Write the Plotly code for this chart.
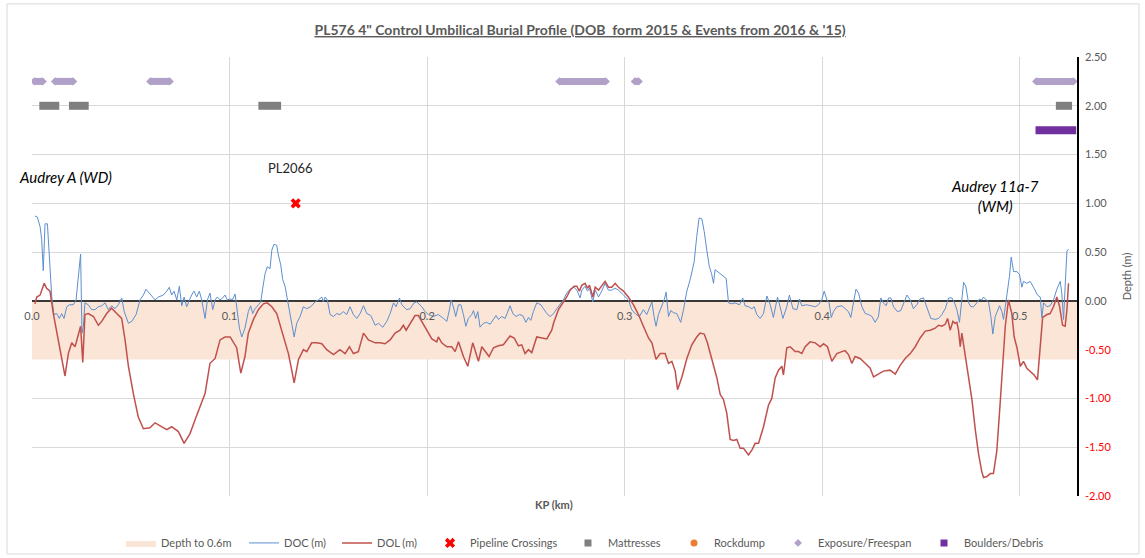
import plotly.graph_objects as go

# ---------------- data ----------------
kp_dol = [0.0015,0.0024,0.0041,0.0062,0.0074,0.0091,0.0108,0.0133,0.0150,0.0167,0.0184,0.0201,0.0218,0.0235,0.0246,0.0257,0.0268,0.0285,0.0311,0.0336,0.0353,0.0378,0.0403,0.0429,0.0454,0.0471,0.0488,0.0513,0.0538,0.0564,0.0597,0.0623,0.0657,0.0682,0.0707,0.0741,0.0770,0.0783,0.0800,0.0825,0.0851,0.0876,0.0901,0.0927,0.0952,0.0977,0.1003,0.1019,0.1036,0.1057,0.1078,0.1095,0.1121,0.1146,0.1171,0.1191,0.1214,0.1239,0.1273,0.1298,0.1310,0.1327,0.1349,0.1374,0.1391,0.1416,0.1441,0.1467,0.1492,0.1526,0.1559,0.1585,0.1607,0.1627,0.1652,0.1678,0.1703,0.1737,0.1762,0.1787,0.1813,0.1838,0.1863,0.1880,0.1894,0.1914,0.1939,0.1956,0.1973,0.1998,0.2024,0.2049,0.2057,0.2074,0.2100,0.2125,0.2142,0.2159,0.2184,0.2206,0.2218,0.2231,0.2248,0.2260,0.2277,0.2294,0.2314,0.2336,0.2361,0.2386,0.2420,0.2441,0.2462,0.2479,0.2496,0.2513,0.2530,0.2555,0.2581,0.2606,0.2631,0.2640,0.2665,0.2690,0.2707,0.2724,0.2744,0.2758,0.2771,0.2783,0.2800,0.2812,0.2822,0.2839,0.2851,0.2868,0.2884,0.2901,0.2918,0.2935,0.2952,0.2969,0.2994,0.3019,0.3045,0.3070,0.3095,0.3121,0.3138,0.3159,0.3180,0.3205,0.3222,0.3239,0.3256,0.3268,0.3290,0.3315,0.3340,0.3365,0.3382,0.3403,0.3419,0.3441,0.3467,0.3484,0.3500,0.3517,0.3534,0.3551,0.3568,0.3585,0.3602,0.3627,0.3644,0.3661,0.3678,0.3703,0.3728,0.3745,0.3762,0.3779,0.3796,0.3804,0.3821,0.3838,0.3863,0.3880,0.3897,0.3914,0.3939,0.3965,0.3990,0.4007,0.4027,0.4049,0.4074,0.4100,0.4116,0.4133,0.4150,0.4167,0.4192,0.4218,0.4243,0.4260,0.4285,0.4310,0.4344,0.4370,0.4395,0.4420,0.4446,0.4471,0.4496,0.4522,0.4547,0.4572,0.4589,0.4606,0.4623,0.4635,0.4648,0.4662,0.4673,0.4682,0.4690,0.4699,0.4707,0.4724,0.4741,0.4758,0.4775,0.4791,0.4808,0.4817,0.4834,0.4851,0.4867,0.4884,0.4901,0.4915,0.4927,0.4943,0.4960,0.4972,0.4986,0.5003,0.5019,0.5036,0.5053,0.5073,0.5090,0.5104,0.5116,0.5138,0.5154,0.5171,0.5188,0.5202,0.5217,0.5230,0.5239,0.5247]
dol = [-0.03,0.04,0.06,0.18,0.13,0.10,-0.13,-0.40,-0.60,-0.77,-0.54,-0.43,-0.47,-0.33,-0.26,-0.63,-0.14,-0.13,-0.16,-0.25,-0.21,-0.13,-0.075,-0.13,-0.18,-0.40,-0.67,-0.95,-1.19,-1.31,-1.30,-1.25,-1.29,-1.32,-1.29,-1.34,-1.46,-1.42,-1.36,-1.22,-1.08,-0.95,-0.64,-0.59,-0.40,-0.37,-0.37,-0.43,-0.48,-0.74,-0.57,-0.33,-0.19,-0.09,-0.03,-0.02,-0.06,-0.13,-0.37,-0.54,-0.66,-0.84,-0.60,-0.50,-0.52,-0.43,-0.43,-0.44,-0.50,-0.55,-0.50,-0.54,-0.47,-0.54,-0.52,-0.33,-0.40,-0.43,-0.43,-0.44,-0.40,-0.33,-0.30,-0.25,-0.30,-0.23,-0.15,-0.15,-0.21,-0.31,-0.39,-0.42,-0.37,-0.43,-0.47,-0.47,-0.52,-0.42,-0.57,-0.67,-0.57,-0.43,-0.54,-0.62,-0.47,-0.52,-0.57,-0.48,-0.46,-0.45,-0.36,-0.38,-0.46,-0.45,-0.54,-0.50,-0.53,-0.37,-0.38,-0.39,-0.30,-0.23,-0.09,-0.01,0.04,0.11,0.15,0.15,0.10,0.16,0.18,0.13,0.16,0.04,0.14,0.11,0.15,0.20,0.14,0.14,0.18,0.14,0.10,0.04,-0.04,-0.14,-0.26,-0.38,-0.43,-0.60,-0.54,-0.54,-0.64,-0.62,-0.72,-0.91,-0.78,-0.59,-0.45,-0.37,-0.33,-0.34,-0.43,-0.60,-0.79,-0.96,-1.01,-1.15,-1.42,-1.43,-1.42,-1.51,-1.51,-1.58,-1.53,-1.46,-1.46,-1.29,-1.07,-1.00,-0.79,-0.71,-0.67,-0.76,-0.48,-0.47,-0.52,-0.52,-0.54,-0.47,-0.42,-0.43,-0.47,-0.44,-0.47,-0.62,-0.54,-0.52,-0.51,-0.55,-0.64,-0.57,-0.59,-0.64,-0.69,-0.78,-0.75,-0.72,-0.71,-0.75,-0.66,-0.59,-0.54,-0.47,-0.38,-0.31,-0.30,-0.28,-0.25,-0.26,-0.24,-0.18,-0.30,-0.21,-0.23,-0.22,-0.30,-0.47,-0.33,-0.57,-0.79,-1.01,-1.32,-1.56,-1.75,-1.81,-1.80,-1.77,-1.77,-1.54,-1.05,-0.57,-0.26,0.01,-0.13,-0.37,-0.48,-0.67,-0.62,-0.69,-0.72,-0.76,-0.81,-0.50,-0.17,-0.14,-0.13,-0.06,0.04,-0.06,-0.25,-0.26,-0.09,0.18]

kp_doc = [0.0015,0.0027,0.0041,0.0049,0.0057,0.0066,0.0078,0.0088,0.0100,0.0111,0.0125,0.0138,0.0150,0.0162,0.0176,0.0189,0.0209,0.0223,0.0235,0.0246,0.0253,0.0260,0.0268,0.0285,0.0302,0.0319,0.0336,0.0353,0.0370,0.0386,0.0403,0.0420,0.0437,0.0454,0.0467,0.0488,0.0505,0.0527,0.0547,0.0564,0.0577,0.0594,0.0606,0.0623,0.0640,0.0665,0.0682,0.0695,0.0707,0.0719,0.0733,0.0746,0.0758,0.0770,0.0783,0.0797,0.0808,0.0820,0.0834,0.0847,0.0859,0.0876,0.0888,0.0901,0.0915,0.0927,0.0938,0.0952,0.0965,0.0977,0.0989,0.1003,0.1014,0.1028,0.1040,0.1050,0.1062,0.1078,0.1095,0.1107,0.1117,0.1129,0.1146,0.1158,0.1168,0.1180,0.1191,0.1205,0.1214,0.1225,0.1239,0.1247,0.1259,0.1269,0.1281,0.1293,0.1306,0.1327,0.1340,0.1357,0.1374,0.1391,0.1411,0.1433,0.1450,0.1467,0.1475,0.1484,0.1495,0.1509,0.1526,0.1543,0.1559,0.1576,0.1593,0.1610,0.1627,0.1644,0.1661,0.1678,0.1695,0.1715,0.1737,0.1754,0.1776,0.1796,0.1813,0.1830,0.1843,0.1860,0.1872,0.1884,0.1897,0.1914,0.1934,0.1948,0.1973,0.1990,0.2007,0.2032,0.2057,0.2083,0.2100,0.2113,0.2122,0.2133,0.2145,0.2159,0.2171,0.2184,0.2196,0.2209,0.2226,0.2235,0.2246,0.2257,0.2268,0.2285,0.2302,0.2319,0.2336,0.2349,0.2361,0.2378,0.2395,0.2407,0.2420,0.2434,0.2451,0.2467,0.2484,0.2500,0.2513,0.2525,0.2538,0.2555,0.2576,0.2589,0.2606,0.2623,0.2640,0.2657,0.2673,0.2690,0.2707,0.2724,0.2744,0.2758,0.2775,0.2783,0.2800,0.2812,0.2822,0.2839,0.2851,0.2868,0.2884,0.2901,0.2918,0.2935,0.2952,0.2969,0.2994,0.3019,0.3036,0.3058,0.3075,0.3095,0.3112,0.3126,0.3138,0.3149,0.3159,0.3171,0.3188,0.3200,0.3210,0.3222,0.3234,0.3247,0.3264,0.3284,0.3298,0.3315,0.3332,0.3352,0.3365,0.3377,0.3391,0.3403,0.3416,0.3429,0.3440,0.3450,0.3458,0.3475,0.3492,0.3514,0.3526,0.3543,0.3559,0.3581,0.3598,0.3610,0.3627,0.3644,0.3656,0.3669,0.3686,0.3703,0.3720,0.3737,0.3753,0.3774,0.3787,0.3801,0.3821,0.3834,0.3852,0.3872,0.3885,0.3897,0.3922,0.3939,0.3965,0.3981,0.3998,0.4010,0.4024,0.4035,0.4046,0.4057,0.4074,0.4100,0.4116,0.4133,0.4145,0.4159,0.4171,0.4184,0.4201,0.4218,0.4235,0.4252,0.4268,0.4285,0.4297,0.4310,0.4324,0.4336,0.4348,0.4361,0.4381,0.4398,0.4415,0.4429,0.4446,0.4462,0.4479,0.4496,0.4513,0.4530,0.4550,0.4572,0.4589,0.4606,0.4623,0.4640,0.4657,0.4668,0.4682,0.4695,0.4704,0.4716,0.4727,0.4741,0.4753,0.4766,0.4783,0.4796,0.4808,0.4817,0.4830,0.4842,0.4854,0.4864,0.4876,0.4888,0.4898,0.4910,0.4918,0.4927,0.4938,0.4948,0.4957,0.4969,0.4986,0.4999,0.5011,0.5019,0.5036,0.5053,0.5070,0.5090,0.5104,0.5112,0.5121,0.5138,0.5154,0.5171,0.5188,0.5205,0.5213,0.5222,0.5230,0.5239,0.5247]
doc = [0.87,0.86,0.76,0.63,0.31,0.79,0.79,0.42,0.04,-0.14,-0.13,-0.18,-0.13,-0.18,-0.06,-0.04,-0.04,0.01,0.28,0.48,-0.33,-0.26,-0.02,-0.04,-0.09,-0.09,-0.06,-0.05,-0.02,-0.09,-0.05,-0.08,-0.04,0.03,-0.11,-0.23,-0.21,-0.14,0.01,0.06,0.12,0.08,0.06,0.01,0.04,0.06,0.10,0.14,0.06,0.10,0.01,0.15,-0.05,0.04,-0.06,0.01,0.06,0.10,0.04,0.10,0.01,-0.18,0.01,0.08,-0.09,0.01,0.04,0.01,0.03,0.06,0.01,0.02,0.01,0.07,-0.13,-0.28,-0.37,-0.28,-0.11,-0.05,-0.13,-0.08,-0.04,-0.01,0.13,0.28,0.35,0.33,0.52,0.58,0.57,0.47,0.37,0.22,0.15,0.01,-0.13,-0.37,-0.23,-0.16,-0.06,-0.08,-0.06,-0.01,0.01,0.04,-0.01,0.04,0.01,-0.14,-0.16,-0.13,-0.14,-0.11,-0.14,-0.06,-0.14,-0.18,-0.13,-0.05,-0.13,-0.15,-0.25,-0.23,-0.27,-0.21,-0.13,-0.02,-0.06,0.03,-0.04,-0.06,-0.09,-0.08,-0.02,-0.01,-0.06,-0.11,-0.14,-0.16,-0.14,-0.18,-0.21,-0.09,0.01,-0.06,-0.16,-0.04,-0.04,-0.14,-0.26,-0.18,-0.14,-0.10,-0.18,-0.11,-0.27,-0.23,-0.22,-0.24,-0.19,-0.15,-0.19,-0.16,-0.18,-0.11,-0.05,-0.13,-0.16,-0.14,-0.15,-0.22,-0.17,-0.20,-0.11,-0.02,-0.04,-0.08,-0.13,-0.16,-0.13,-0.08,-0.04,0.01,0.08,0.12,0.14,0.11,0.03,0.11,0.15,0.10,0.13,-0.01,0.11,0.04,0.10,0.18,0.11,0.11,0.13,0.11,0.06,0.01,-0.09,-0.14,-0.16,-0.09,-0.14,-0.06,-0.01,-0.16,-0.26,-0.14,-0.06,0.01,0.09,-0.16,-0.10,-0.12,-0.13,-0.22,-0.09,0.10,0.22,0.40,0.66,0.85,0.84,0.71,0.52,0.35,0.28,0.18,0.32,0.29,0.26,0.23,-0.02,-0.03,-0.02,-0.04,0.03,-0.05,-0.06,-0.08,-0.06,-0.14,-0.18,-0.13,0.05,-0.04,-0.17,0.04,-0.06,-0.18,-0.06,0.06,-0.08,-0.09,0.02,-0.05,-0.04,-0.05,-0.06,-0.04,0.01,0.10,0.01,-0.02,-0.17,-0.11,-0.06,-0.05,-0.08,-0.11,-0.17,0.01,0.12,0.08,-0.06,-0.13,-0.14,-0.16,-0.22,-0.16,0.03,-0.02,-0.05,0.03,0.03,-0.06,-0.11,-0.10,-0.01,0.06,0.01,-0.08,-0.04,0.02,0.03,-0.06,-0.18,-0.19,-0.18,-0.14,-0.08,0.03,0.03,-0.01,-0.09,-0.22,-0.01,0.19,0.15,-0.02,-0.06,-0.06,-0.02,0.02,0.01,0.04,0.01,-0.01,-0.16,-0.34,-0.16,-0.09,-0.05,-0.11,-0.19,-0.06,0.08,0.25,0.45,0.30,0.30,0.27,0.14,0.20,0.18,0.20,0.14,0.06,0.04,-0.17,-0.02,-0.06,-0.05,0.01,0.12,0.20,0.08,-0.19,0.15,0.51,0.53]

kp_end = 0.529
band_depth = 0.6

crossing_kp = [0.1335]
crossing_val = [1.0]
crossing_label = ["PL2066"]

mattress_level = 2.0
mattress_start = [0.0037, 0.0187, 0.1146, 0.5183]
mattress_end = [0.0138, 0.0287, 0.1261, 0.5265]

exposure_level = 2.25
exposure_start = [0.0012, 0.0117, 0.0599, 0.2670, 0.3052, 0.5084]
exposure_end = [0.0054, 0.0208, 0.0697, 0.2904, 0.3071, 0.5272]

boulder_level = 1.75
boulder_start = [0.5080]
boulder_end = [0.5286]

x_tick_vals = [0.0, 0.1, 0.2, 0.3, 0.4, 0.5]
x_tick_text = ["0.0", "0.1", "0.2", "0.3", "0.4", "0.5"]
y_tick_vals = [-2.0, -1.5, -1.0, -0.5, 0.0, 0.5, 1.0, 1.5, 2.0, 2.5]

legend_names = ["Depth to 0.6m", "DOC (m)", "DOL (m)", "Pipeline Crossings",
                "Mattresses", "Rockdump", "Exposure/Freespan", "Boulders/Debris"]

# ---------------- styling ----------------
FONT = "Lato"
GREY = "#595959"
y_tick_text = [("<span style='color:#FF0000'>%.2f</span>" % v) if v < 0 else ("%.2f" % v) for v in y_tick_vals]
# left edge (paper x) of each legend entry
legend_x = [0.0852, 0.2029, 0.2919, 0.3809, 0.5129, 0.6144, 0.7139, 0.8536]
LEG = ["legend", "legend2", "legend3", "legend4", "legend5", "legend6", "legend7", "legend8"]

fig = go.Figure()

# depth band
fig.add_trace(go.Scatter(
    x=[0, kp_end, kp_end, 0, 0], y=[0, 0, -band_depth, -band_depth, 0],
    fill="toself", fillcolor="rgba(251,229,214,1)", mode="lines",
    line=dict(width=0, color="rgba(251,229,214,1)"), name=legend_names[0],
    legend=LEG[0], hoverinfo="skip"))

# zero line
fig.add_trace(go.Scatter(x=[0, kp_end], y=[0, 0], mode="lines",
                         line=dict(color="black", width=1.5), showlegend=False, hoverinfo="skip"))

fig.add_trace(go.Scatter(x=kp_doc, y=doc, mode="lines", name=legend_names[1], legend=LEG[1],
                         line=dict(color="#5B8FD0", width=1)))
fig.add_trace(go.Scatter(x=kp_dol, y=dol, mode="lines", name=legend_names[2], legend=LEG[2],
                         line=dict(color="#C0504D", width=1.5)))

fig.add_trace(go.Scatter(x=crossing_kp, y=crossing_val, mode="markers", name=legend_names[3],
                         legend=LEG[3],
                         marker=dict(symbol="x", size=9, color="#FF0000", line=dict(width=0))))

# mattresses
for s, e in zip(mattress_start, mattress_end):
    fig.add_trace(go.Scatter(x=[s, e], y=[mattress_level, mattress_level], mode="lines",
                             line=dict(color="#7F7F7F", width=8), showlegend=False,
                             legend=LEG[4], legendgroup="mat", hoverinfo="skip"))
fig.add_trace(go.Scatter(x=[None], y=[None], mode="markers", name=legend_names[4], legend=LEG[4],
                         legendgroup="mat", marker=dict(symbol="square", size=7, color="#7F7F7F")))

# rockdump (no events)
fig.add_trace(go.Scatter(x=[None], y=[None], mode="markers", name=legend_names[5], legend=LEG[5],
                         marker=dict(symbol="circle", size=7, color="#ED7D31")))

# exposure / freespan
for s, e in zip(exposure_start, exposure_end):
    fig.add_trace(go.Scatter(x=[s, e], y=[exposure_level, exposure_level], mode="lines+markers",
                             line=dict(color="#B1A0C7", width=7),
                             marker=dict(symbol="diamond", size=6.5, color="#B1A0C7", line=dict(width=0)),
                             showlegend=False, legend=LEG[6], legendgroup="exp", hoverinfo="skip"))
fig.add_trace(go.Scatter(x=[None], y=[None], mode="markers", name=legend_names[6], legend=LEG[6],
                         legendgroup="exp", marker=dict(symbol="diamond", size=6, color="#B1A0C7")))

# boulders
for s, e in zip(boulder_start, boulder_end):
    fig.add_trace(go.Scatter(x=[s, e], y=[boulder_level, boulder_level], mode="lines",
                             line=dict(color="#7030A0", width=8), showlegend=False,
                             legend=LEG[7], legendgroup="bld", hoverinfo="skip"))
fig.add_trace(go.Scatter(x=[None], y=[None], mode="markers", name=legend_names[7], legend=LEG[7],
                         legendgroup="bld", marker=dict(symbol="square", size=7, color="#7030A0")))

# annotations
fig.add_annotation(x=crossing_kp[0] - 0.0025, y=1.36, text=crossing_label[0], showarrow=False,
                   font=dict(family=FONT, size=13, color="#262626"))
fig.add_annotation(x=0.0168, y=1.27, text="<i>Audrey A (WD)</i>", showarrow=False,
                   font=dict(family=FONT, size=15, color="black"))
fig.add_annotation(x=0.4876, y=1.08, text="<i>Audrey 11a-7<br>(WM)</i>", showarrow=False,
                   font=dict(family=FONT, size=15, color="black"))
fig.add_annotation(xref="paper", yref="paper", x=0.4995, y=-0.02, yanchor="middle", text="<b>KP (km)</b>",
                   showarrow=False, font=dict(family=FONT, size=11, color=GREY))

# chart frame
fig.add_shape(type="rect", xref="paper", yref="paper", x0=-0.0239, x1=1.0593, y0=-0.132, y1=1.121,
              line=dict(color="#D9D9D9", width=1))

legend_layouts = {}
for name, lx in zip(LEG, legend_x):
    legend_layouts[name] = dict(orientation="h", x=lx, xanchor="left", yref="container", y=0.027,
                                yanchor="middle", font=dict(family=FONT, size=11, color=GREY),
                                itemwidth=30, bgcolor="rgba(0,0,0,0)", borderwidth=0)

fig.update_layout(
    width=1145, height=558,
    margin=dict(l=32, r=68, t=57, b=62),
    paper_bgcolor="white", plot_bgcolor="white",
    font=dict(family=FONT, size=11, color=GREY),
    title=dict(text="<b><u>PL576 4\" Control Umbilical Burial Profile (DOB  form 2015 & Events from 2016 & '15)</u></b>",
               x=0.5066, xanchor="center", y=0.946, yanchor="middle",
               font=dict(family=FONT, size=14, color=GREY)),
    showlegend=True,
    xaxis=dict(range=[0, kp_end], tickvals=x_tick_vals, ticktext=x_tick_text,
               showgrid=True, gridcolor="#D9D9D9", gridwidth=1,
               zeroline=False, showline=False, ticks="", automargin=False,
               anchor="free", position=2.0 / 4.5, ticklabelstandoff=7,
               tickfont=dict(family=FONT, size=11, color=GREY)),
    yaxis=dict(range=[-2.0, 2.5], tickvals=y_tick_vals, ticktext=y_tick_text, side="right",
               showgrid=True, gridcolor="#D9D9D9", gridwidth=1, zeroline=False,
               showline=True, linecolor="black", linewidth=1.5, ticks="", automargin=False,
               ticklabelstandoff=4,
               tickfont=dict(family=FONT, size=11, color=GREY),
               title=dict(text="Depth (m)", standoff=13, font=dict(family=FONT, size=11, color=GREY))),
    **legend_layouts,
)

fig.write_html("out.html", config={"displayModeBar": False},
               post_script="document.body.style.margin='0px';")
